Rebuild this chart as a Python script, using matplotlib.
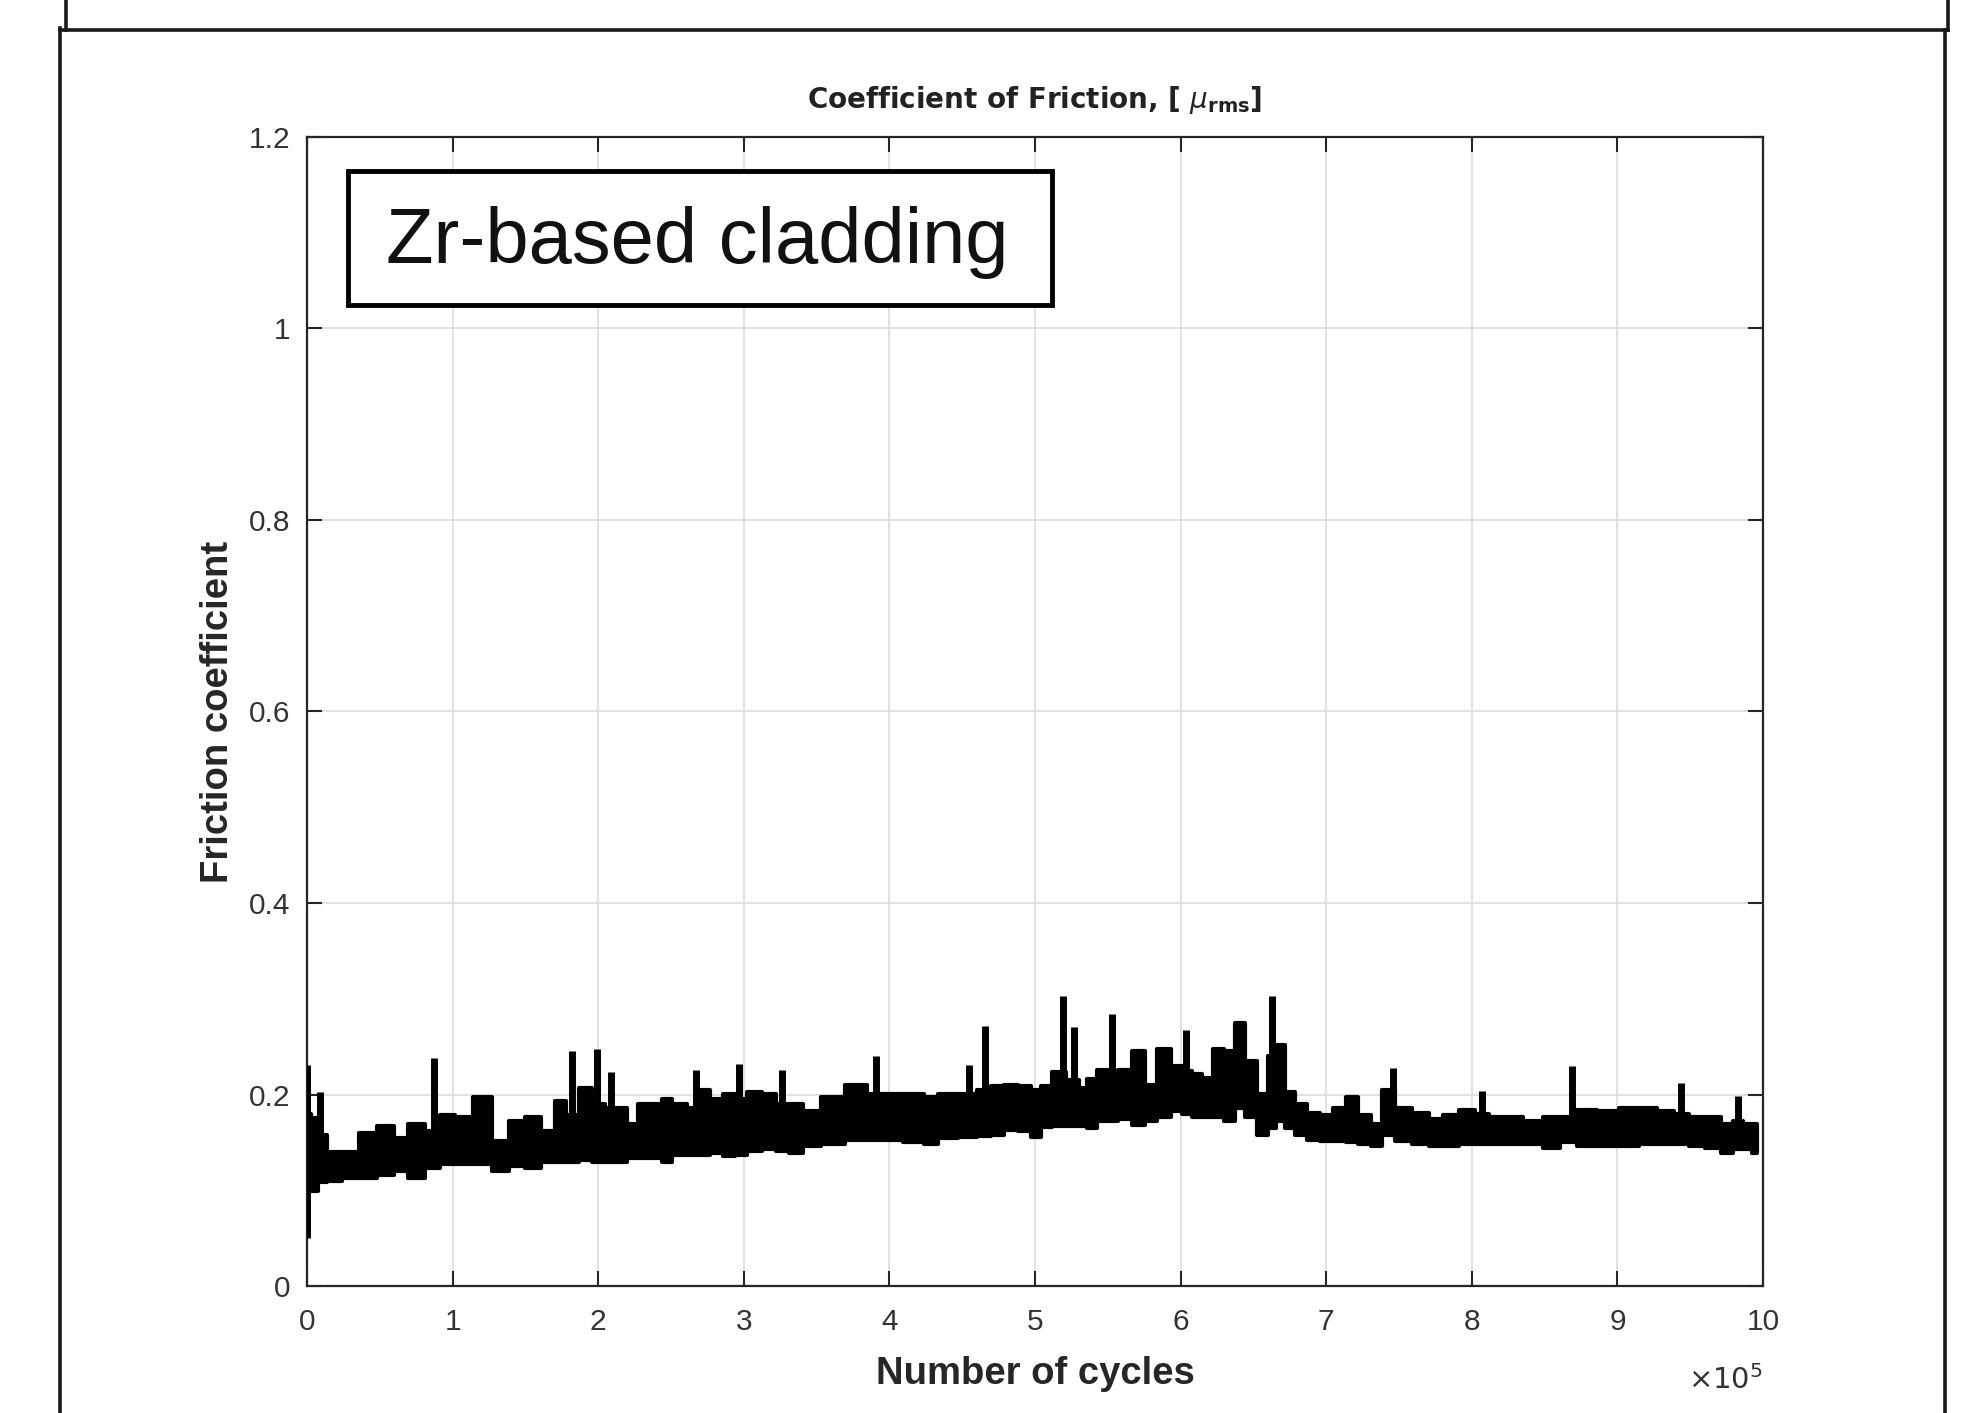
import matplotlib
matplotlib.use('Agg')
import matplotlib.pyplot as plt
from matplotlib.patches import Rectangle
from matplotlib.lines import Line2D

# cycles (x 1e5) with the lower / upper edge of the dense friction trace
cycles = [0.00, 0.05, 0.10, 0.18, 0.30, 0.41, 0.55, 0.64, 0.75, 0.87,
          0.96, 1.07, 1.21, 1.33, 1.44, 1.55, 1.67, 1.74, 1.82, 1.92,
          2.00, 2.09, 2.15, 2.24, 2.31, 2.40, 2.47, 2.55, 2.67, 2.72,
          2.81, 2.91, 2.97, 3.07, 3.18, 3.26, 3.36, 3.45, 3.61, 3.78,
          3.91, 4.00, 4.19, 4.28, 4.39, 4.55, 4.66, 4.74, 4.83, 4.94,
          5.00, 5.08, 5.15, 5.27, 5.33, 5.38, 5.47, 5.53, 5.61, 5.72,
          5.79, 5.89, 5.98, 6.04, 6.11, 6.18, 6.26, 6.34, 6.41, 6.48,
          6.57, 6.63, 6.68, 6.75, 6.82, 6.91, 7.00, 7.09, 7.18, 7.26,
          7.35, 7.42, 7.53, 7.65, 7.76, 7.85, 7.98, 8.07, 8.17, 8.29,
          8.42, 8.56, 8.65, 8.79, 8.93, 9.09, 9.20, 9.34, 9.44, 9.54,
          9.66, 9.76, 9.83, 9.89, 9.96]
cof_low = [0.099, 0.099, 0.109, 0.110, 0.113, 0.113, 0.116, 0.120, 0.113, 0.123,
           0.127, 0.127, 0.127, 0.120, 0.125, 0.123, 0.129, 0.130, 0.130, 0.132,
           0.130, 0.130, 0.130, 0.134, 0.134, 0.134, 0.130, 0.137, 0.137, 0.137,
           0.139, 0.136, 0.137, 0.141, 0.143, 0.141, 0.139, 0.146, 0.148, 0.153,
           0.152, 0.153, 0.150, 0.148, 0.155, 0.156, 0.157, 0.158, 0.163, 0.162,
           0.156, 0.166, 0.167, 0.167, 0.167, 0.165, 0.172, 0.172, 0.174, 0.168,
           0.172, 0.176, 0.183, 0.180, 0.177, 0.177, 0.176, 0.172, 0.186, 0.176,
           0.158, 0.165, 0.172, 0.165, 0.158, 0.153, 0.151, 0.151, 0.150, 0.148,
           0.146, 0.158, 0.151, 0.148, 0.146, 0.146, 0.148, 0.148, 0.148, 0.148,
           0.148, 0.144, 0.150, 0.146, 0.146, 0.146, 0.148, 0.148, 0.148, 0.146,
           0.144, 0.139, 0.143, 0.143, 0.139]
cof_high = [0.180, 0.175, 0.158, 0.140, 0.140, 0.160, 0.167, 0.155, 0.169, 0.162,
            0.179, 0.177, 0.197, 0.151, 0.172, 0.177, 0.162, 0.193, 0.179, 0.207,
            0.190, 0.186, 0.186, 0.169, 0.190, 0.190, 0.195, 0.190, 0.186, 0.205,
            0.195, 0.200, 0.195, 0.203, 0.200, 0.190, 0.190, 0.183, 0.197, 0.210,
            0.200, 0.200, 0.200, 0.197, 0.200, 0.200, 0.205, 0.209, 0.210, 0.209,
            0.205, 0.209, 0.223, 0.215, 0.207, 0.216, 0.226, 0.215, 0.226, 0.245,
            0.210, 0.247, 0.230, 0.225, 0.221, 0.217, 0.247, 0.245, 0.275, 0.235,
            0.200, 0.240, 0.252, 0.203, 0.190, 0.181, 0.179, 0.186, 0.197, 0.179,
            0.169, 0.205, 0.186, 0.181, 0.174, 0.179, 0.184, 0.180, 0.177, 0.176,
            0.172, 0.176, 0.177, 0.184, 0.183, 0.186, 0.186, 0.183, 0.180, 0.176,
            0.176, 0.169, 0.172, 0.169, 0.169]

# isolated spikes of the trace
spike_cycles = [0.00, 0.09, 0.87, 1.82, 1.99, 2.09, 2.67, 2.97, 3.26, 3.91,
                4.55, 4.66, 5.19, 5.27, 5.53, 6.04, 6.63, 7.46, 8.07, 8.69,
                9.44, 9.83]
spike_low = [0.050, 0.150, 0.150, 0.150, 0.150, 0.150, 0.150, 0.150, 0.150, 0.170,
             0.170, 0.170, 0.180, 0.180, 0.180, 0.190, 0.190, 0.160, 0.160, 0.160,
             0.160, 0.160]
spike_top = [0.231, 0.203, 0.238, 0.245, 0.248, 0.223, 0.226, 0.232, 0.226, 0.240,
             0.231, 0.272, 0.303, 0.270, 0.284, 0.267, 0.303, 0.228, 0.204, 0.230,
             0.212, 0.198]

x_ticks = list(range(0, 11))
y_ticks = [0, 0.2, 0.4, 0.6, 0.8, 1.0, 1.2]
y_tick_labels = ['0', '0.2', '0.4', '0.6', '0.8', '1', '1.2']

W, H = 1977, 1413
fig = plt.figure(figsize=(W / 100, H / 100), dpi=100)
fig.patch.set_facecolor('white')

# axes box in pixels of the picture
ax = fig.add_axes([307 / W, 1 - 1286 / H, 1456 / W, 1149 / H])

ax.fill_between(cycles, cof_low, cof_high, step='mid', color='black',
                edgecolor='black', linewidth=3, zorder=3)
ax.vlines(spike_cycles, spike_low, spike_top, color='black', linewidth=5, zorder=3)

ax.set_xlim(0, 10)
ax.set_ylim(0, 1.2)
ax.set_xticks(x_ticks)
ax.set_yticks(y_ticks)
ax.set_yticklabels(y_tick_labels)
ax.grid(True, color='#dedede', linewidth=1.3, zorder=0)
ax.set_axisbelow(True)

for lab in ax.get_xticklabels() + ax.get_yticklabels():
    lab.set_fontfamily('Liberation Sans')
    lab.set_fontsize(21.5)
    lab.set_color('#333333')
ax.tick_params(axis='both', which='major', direction='in', length=11, width=1.5,
               color='#262626', top=True, right=True)
ax.tick_params(axis='y', pad=12)
ax.tick_params(axis='x', pad=16)
for sp in ax.spines.values():
    sp.set_color('#262626')
    sp.set_linewidth(1.6)

ax.set_xlabel('Number of cycles', fontfamily='Liberation Sans', fontsize=27.5,
              fontweight='bold', color='#262626')
ax.set_ylabel('Friction coefficient', fontfamily='Liberation Sans', fontsize=27.5,
              fontweight='bold', color='#262626')
ax.xaxis.set_label_coords(0.5, -0.061)
ax.yaxis.set_label_coords(-0.049, 0.5)

ax.set_title(r'Coefficient of Friction, [ $\mu_{\mathbf{rms}}$]', fontsize=20,
             fontweight='bold', color='#222222', pad=21)

ax.text(1.0, -0.069, r'$\times10^{5}$', transform=ax.transAxes, ha='right',
        va='top', fontsize=21, color='#333333')

# label box
fig.patches.append(Rectangle((348 / W, 1 - 305 / H), 704 / W, 134 / H,
                             transform=fig.transFigure, facecolor='white',
                             edgecolor='black', linewidth=3.5, zorder=5))
fig.text(697 / W, 1 - 263 / H, 'Zr-based cladding', ha='center', va='baseline',
         fontfamily='Liberation Sans', fontsize=56, color='#111111', zorder=6)

# panel frames
frame = dict(transform=fig.transFigure, color='#1a1a1a', linewidth=2.6)
fig.lines.append(Line2D([60 / W, 1948 / W], [1 - 30 / H, 1 - 30 / H], **frame))
fig.lines.append(Line2D([60 / W, 60 / W], [1 - 28 / H, 0], **frame))
fig.lines.append(Line2D([1945 / W, 1945 / W], [1 - 30 / H, 0], **frame))
fig.lines.append(Line2D([66 / W, 66 / W], [1, 1 - 30 / H], **frame))
fig.lines.append(Line2D([1948 / W, 1948 / W], [1, 1 - 30 / H], **frame))

fig.savefig('out.png', dpi=100, facecolor='white')
